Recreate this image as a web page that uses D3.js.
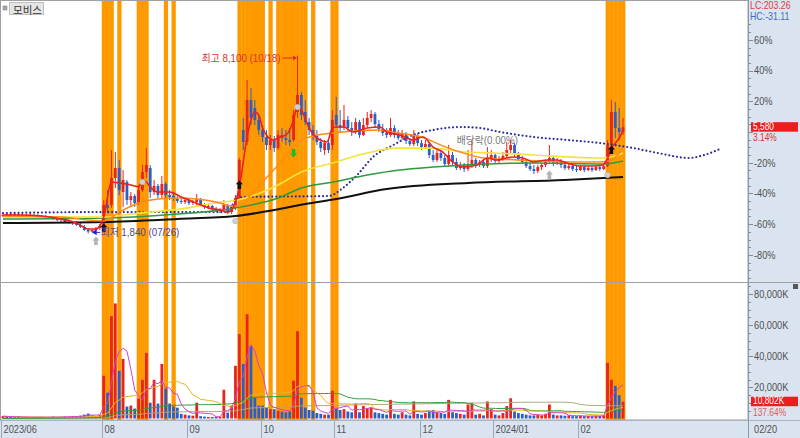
<!DOCTYPE html>
<html><head><meta charset="utf-8">
<script src="https://cdn.jsdelivr.net/npm/d3@7/dist/d3.min.js"></script>
<style>html,body{margin:0;padding:0;background:#fff;overflow:hidden}svg{display:block}</style>
</head><body>
<svg id="chart" width="800" height="438"></svg>
<script>
// ---------------- DATA ----------------
const stockName = "모비스";
const open = [
2450,2485,2520,2485,2520,2450,2485,2450,2485,2450,
2415,2450,2380,2415,2345,2310,2345,2240,2205,2240,
2135,2065,1960,1905,1960,2030,
2100,2840,2840,3790,4140,3295,3650,3015,3155,2910,
3365,4000,4140,3295,3510,3190,3580,3190,3155,3050,
2980,2945,
3015,2910,2945,3050,2840,2770,2805,2700,2625,2665,2840,2590,2735,
3085,5480,5060,6535,6255,5835,5480,5235,4950,5130,
4845,5305,5200,5130,5130,6115,6715,6115,5760,5480,
5270,5060,4775,5020,4950,6010,
5655,5550,5835,5550,5410,5760,5305,5655,5905,6045,
5690,5515,5375,5305,5550,5305,5200,5340,5095,4985,
5270,5020,4880,4985,
4600,4425,4670,4495,4285,4600,4355,4140,4250,4105,
4285,4425,4250,4355,4210,4495,4600,4390,4460,4565,
4775,4950,4635,4460,4355,
4210,4105,4035,4175,4250,4355,4495,4320,4390,4250,
4140,4210,4105,4070,4175,4070,4140,4070,4175,4105,
4210,4950,6115,5550,5410];
const high = [
2555,2555,2555,2590,2555,2555,2520,2555,2520,2520,
2485,2485,2450,2450,2415,2380,2380,2310,2275,2275,
2205,2135,2030,1995,2065,2170,
3015,3365,4775,4705,4425,4070,3720,3295,3225,3545,
4250,4845,4250,3720,3580,3860,3650,3365,3295,3155,
3085,3085,
3085,3015,3225,3085,2910,2875,2840,2770,2735,3015,2875,2840,3190,
4495,5905,7240,6960,6535,6010,5655,5480,5305,5270,
5480,5550,5480,5550,6185,8100,6820,6535,5905,5655,
5480,5200,5130,5130,6185,6645,
6185,6360,5975,5760,5905,5835,5905,6115,6185,6115,
5835,5690,5550,5905,5655,5480,5480,5410,5200,5480,
5340,5130,5130,5060,
4775,4775,4775,4600,4950,4705,4495,4355,4320,4775,
5130,4495,4425,4425,4880,4775,4670,4565,4705,5060,
5130,5020,4705,4565,4460,
4320,4250,4250,4320,4425,4950,4565,4495,4460,4355,
4320,4285,4210,4250,4250,4210,4210,4250,4250,4320,
5130,6535,6465,6255,5905];
const low = [
2415,2450,2450,2450,2450,2415,2415,2415,2415,2380,
2380,2345,2345,2310,2275,2240,2205,2170,2135,2100,
2030,1925,1840,1890,1925,1960,
2030,2590,2735,3435,3190,2770,2840,2805,2770,2840,
3295,3790,3085,3190,3085,3085,3085,3015,2980,2910,
2875,2875,
2840,2840,2805,2805,2700,2700,2625,2590,2555,2590,2520,2520,2665,
3015,4775,4950,5655,5655,5305,5060,4775,4775,4705,
4775,5060,4950,4915,5060,5905,5835,5655,5305,5130,
4950,4705,4600,4670,4775,5550,
5410,5480,5410,5270,5340,5200,5270,5550,5760,5550,
5410,5270,5200,5235,5200,5130,5130,4985,4915,4915,
4915,4775,4810,4495,
4355,4355,4390,4210,4210,4250,4070,4070,4000,4035,
4140,4140,4175,4140,4140,4355,4320,4320,4390,4495,
4670,4530,4390,4285,4140,
4035,3930,3965,4070,4175,4285,4210,4250,4140,4070,
4070,4035,4000,4035,4000,4035,4000,4035,4035,4070,
4175,4845,5200,5130,5305];
const close = [
2485,2520,2485,2520,2485,2485,2450,2485,2450,2415,
2450,2380,2415,2345,2310,2345,2240,2205,2240,2135,
2065,1960,1905,1960,2030,2100,
2840,2735,3790,4140,3365,3720,3015,3155,2910,3365,
4000,4250,3295,3510,3190,3580,3190,3120,3050,2980,
2945,3015,
2910,2945,3050,2840,2770,2805,2700,2625,2665,2840,2590,2735,3085,
4425,5060,6535,5905,5835,5480,5235,4950,5130,4845,
5305,5200,5130,5060,6010,6715,6010,5760,5480,5270,
5060,4845,5020,4775,5835,5655,
5550,5835,5550,5410,5760,5305,5655,5905,6045,5690,
5515,5375,5305,5550,5305,5200,5340,5095,4985,5270,
5020,4880,4985,4600,
4425,4670,4495,4285,4600,4355,4140,4250,4105,4285,
4425,4250,4355,4210,4495,4600,4390,4460,4565,4775,
4950,4635,4460,4355,4210,
4105,4035,4175,4250,4355,4495,4320,4390,4250,4140,
4210,4105,4070,4175,4070,4140,4070,4175,4105,4210,
4950,6115,5550,5410,5580];
// volume in thousands of shares (K)
const volume = [
1500,1200,1000,900,1100,800,900,700,800,1000,
900,700,800,1200,900,1000,1300,1100,1500,1400,
1800,2500,3200,2000,1600,2200,
27500,16600,65800,74000,30700,38300,7700,8300,6400,12800,
24900,42200,10200,24900,9600,35100,19200,9600,7700,7000,
3000,2500,
2000,1800,10200,1500,1200,1000,900,1100,1200,18500,3800,8300,33900,
54300,35100,67100,46600,13400,8300,8300,7000,6000,6000,
5000,4500,4000,4500,24300,56200,13400,7000,5500,5000,
3500,3000,2500,2500,17900,6400,
5500,6000,4500,4000,9600,4000,8000,6500,7000,4000,
3500,3000,2500,12000,3000,2500,4000,2500,2000,11000,
3000,2500,3500,4500,
5500,4000,3500,3000,12000,4000,3500,3000,2500,9000,
10000,2500,3000,2000,11000,6000,2500,2000,3500,8000,
13000,4500,3500,3000,2500,
2000,2000,2500,2000,3000,9000,2500,2000,2000,1800,
2000,1500,1500,1800,1500,1600,1500,1700,1600,2000,
35800,25000,21000,15000,10802];

// highlighted (orange) trading days, by day index
const bandDays = [26,27,28,30,35,36,37,42,44,61,62,63,64,65,66,67,69,71,72,73,74,75,76,77,78,80,85,86,156,157,158,159,160];

// month tick labels (day index of first trading day)
const monthTickIdx = [0,26,48,67,86,108,127,149];
const monthTickLabel = ["2023/06","08","09","10","11","12","2024/01","02"];
const lastDateLabel = "02/20";

// moving-average lines: [dayIndex, price]
const maRed = [[0,2485],[5,2485],[10,2450],[15,2345],[19,2205],[22,1995],[24,1995],[25,2100],[26,2415],[28,3650],[30,3615],[33,3545],[35,3475],[36,3720],[37,3650],[38,3475],[40,3295],[43,3295],[44,3260],[46,3120],[48,3015],[51,2840],[53,2735],[56,2665],[58,2590],[59,2665],[61,3475],[63,5235],[64,5835],[65,6115],[66,6010],[67,5550],[69.7,5130],[71.5,5235],[73,5305],[75,5835],[76,6360],[77,6185],[79.3,5480],[81.8,5130],[83.6,5060],[85.2,5585],[88,5585],[90.3,5410],[94,5550],[97.3,5585],[99,5410],[102.4,5305],[105.8,5130],[108.4,5235],[111,4880],[113.5,4705],[116,4355],[118.7,4175],[122.3,4250],[125,4495],[127.5,4425],[130,4495],[131.6,4530],[134.2,4495],[136.8,4355],[140.4,4425],[143,4425],[145.5,4320],[149,4210],[152,4210],[154.8,4250],[155.8,4425],[157.1,4845],[159.2,5235],[160,5480]];
const maOrange = [[0,2450],[15,2415],[22,2310],[26,2275],[30,2590],[35,2910],[40,3050],[45,3085],[50,3050],[55,2945],[59,2805],[61,2805],[64,3190],[67,3650],[71,4250],[77,5130],[85,5375],[97,5480],[102,5375],[108,5235],[113,4950],[118,4705],[124,4495],[133,4425],[146,4355],[154,4355],[157,4425],[159,4670],[160,4845]];
const maYellow = [[0,2415],[26,2415],[35,2555],[46,2700],[54.5,2910],[60.5,3015],[67,3295],[71,3545],[77,4000],[85,4320],[94,4670],[101.5,4845],[111,4845],[119,4705],[127,4670],[137,4600],[155,4495],[160,4670]];
const maGreen = [[0,2345],[26,2380],[45,2520],[60,2735],[71,3085],[77,3435],[85.2,3650],[94,3895],[102.4,4070],[111,4175],[119,4250],[137,4320],[155,4285],[160,4390]];
const maBlack = [[0,2205],[26,2240],[45,2345],[60,2450],[70,2665],[78,2875],[86,3050],[99,3400],[120,3615],[145,3720],[160,3825]];
const leadSpan = [[0,2555],[26,2590],[40,2590],[58,2590],[60,3015],[62,3120],[84,3155],[87.7,3435],[91.4,3895],[95.5,4530],[100.7,4950],[105.8,5305],[111,5480],[118,5585],[123,5550],[128.3,5410],[136.8,5235],[145.5,5130],[154,5020],[162.6,4845],[169,4670],[177,4495],[181,4600],[185,4810]];

// signal markers [dayIndex, price]
const blackUp = [[26,2030],[61,3545],[157,4775]];
const greenDown = [[75,4670]];
const grayUp = [[24,1570],[141,3895]];
const grayDot = [[36,3650],[60,2275],[76,6290],[156,3895]];

const pctTicks = [60,40,20,-20,-40,-60,-80];
const volTicks = [80000,60000,40000,20000];
const prevClose = 5410, lastClose = 5580, lastVolume = 10802;
const lowInfo = {day:22, price:1840, label:"최저 1,840 (07/26)"};
const highInfo = {day:76, price:8100, label:"최고 8,100 (10/18)"};
const exDiv = {day:125, label:"배당락(0.00%)"};
const lcText = "LC:203.26", hcText = "HC:-31.11", chgText = "3.14%", volRatioText = "137.64%";

// ---------------- LAYOUT ----------------
const W = 800, H = 438, PR = 748, PB = 282, VB = 420, SLOTS = 193;
const N = close.length;
const FONT = "'Liberation Sans','Noto Sans CJK KR',sans-serif";
const RED = "#e8241c", BLUE = "#2a5fc8";
const svg = d3.select("#chart");
const x = d3.scaleLinear().domain([0, SLOTS]).range([1, 749]);
const step = x(1) - x(0);
const cx = i => x(i) + step / 2;
const y = d3.scaleLinear().domain([127, 10059]).range([PB, 0]);
const yv = d3.scaleLinear().domain([0, 87800]).range([418.5, PB]);

// condensed text helper (narrow HTS-style font)
function ntext(g, tx, ty, str, size, fill, sx, anchor) {
  return g.append("text")
    .attr("transform", `translate(${tx},${ty}) scale(${sx},1)`)
    .attr("dominant-baseline", "central").attr("text-anchor", anchor || "start")
    .attr("font-family", FONT).attr("font-size", size).attr("fill", fill).text(str);
}

const defs = svg.append("defs");
defs.append("clipPath").attr("id","cp").append("rect").attr("x",0).attr("y",0).attr("width",PR).attr("height",PB);
defs.append("clipPath").attr("id","cv").append("rect").attr("x",0).attr("y",PB).attr("width",PR).attr("height",VB-PB);

svg.append("rect").attr("width",W).attr("height",H).attr("fill","#fff");
svg.append("rect").attr("x",PR).attr("y",0).attr("width",W-PR).attr("height",H).attr("fill","#dae4f0");
svg.append("rect").attr("x",0).attr("y",VB).attr("width",W).attr("height",H-VB).attr("fill","#dae4f0");

// bands
svg.append("g").selectAll("rect").data(bandDays).join("rect")
  .attr("x", d => x(d)).attr("width", step + 0.4).attr("y", 1).attr("height", VB - 1)
  .attr("fill", "#ff9900");

// ---------- price panel ----------
const gp = svg.append("g").attr("clip-path","url(#cp)");
const idx = d3.range(N);
const up = i => close[i] >= open[i];
gp.selectAll("line.w").data(idx).join("line")
  .attr("x1", cx).attr("x2", cx)
  .attr("y1", i => y(high[i])).attr("y2", i => y(low[i]))
  .attr("stroke", i => up(i) ? RED : BLUE).attr("stroke-width", 1);
gp.selectAll("rect.b").data(idx).join("rect")
  .attr("x", i => cx(i) - 1.4).attr("width", 2.8)
  .attr("y", i => y(Math.max(open[i], close[i])))
  .attr("height", i => Math.max(1, Math.abs(y(open[i]) - y(close[i]))))
  .attr("fill", i => up(i) ? RED : BLUE);

const lineGen = d3.line().x(d => cx(d[0])).y(d => y(d[1])).curve(d3.curveMonotoneX);
gp.append("path").attr("d", lineGen(leadSpan)).attr("fill","none").attr("stroke","#2b2ba0")
  .attr("stroke-width",2.2).attr("stroke-linecap","round").attr("stroke-dasharray","0,3.9");
gp.append("path").attr("d", lineGen(maBlack)).attr("fill","none").attr("stroke","#111").attr("stroke-width",2);
gp.append("path").attr("d", lineGen(maGreen)).attr("fill","none").attr("stroke","#2e9a3a").attr("stroke-width",1.6);
gp.append("path").attr("d", lineGen(maYellow)).attr("fill","none").attr("stroke","#f4e43a").attr("stroke-width",1.7);
gp.append("path").attr("d", lineGen(maOrange)).attr("fill","none").attr("stroke","#ff8a1a").attr("stroke-width",1.4);
gp.append("path").attr("d", lineGen(maRed)).attr("fill","none").attr("stroke","#ee2020").attr("stroke-width",1.6);

// markers
const arrowUp = "M0,-4.5L3.6,-0.6L1.8,-0.6L1.8,4L-1.8,4L-1.8,-0.6L-3.6,-0.6Z";
gp.selectAll("path.bu").data(blackUp).join("path").attr("d", arrowUp)
  .attr("transform", d => `translate(${cx(d[0])},${y(d[1])})`).attr("fill","#111");
gp.selectAll("path.gu").data(grayUp).join("path").attr("d", arrowUp)
  .attr("transform", d => `translate(${cx(d[0])},${y(d[1])})`).attr("fill","#b4b4b4");
gp.selectAll("path.gd").data(greenDown).join("path").attr("d", arrowUp)
  .attr("transform", d => `translate(${cx(d[0])},${y(d[1])}) rotate(180)`).attr("fill","#22bb22");
gp.selectAll("circle.gc").data(grayDot).join("circle")
  .attr("cx", d => cx(d[0])).attr("cy", d => y(d[1])).attr("r", 2.8).attr("fill","#d0d0d0").attr("stroke","#b0b0b0").attr("stroke-width",0.6);

// high annotation
const ga0 = svg.append("g");
const hx = cx(highInfo.day), hy = y(highInfo.price) + 2.4;
ntext(ga0, hx - 17, hy, highInfo.label, 10.5, "#e0302a", 0.93, "end");
ga0.append("line").attr("x1", hx - 15).attr("x2", hx - 3).attr("y1", hy).attr("y2", hy).attr("stroke","#e0302a").attr("stroke-width",1);
ga0.append("path").attr("d", `M${hx-0.5},${hy}L${hx-4.5},${hy-2.5}L${hx-4.5},${hy+2.5}Z`).attr("fill","#e0302a");

// low annotation
const lx = cx(lowInfo.day), ly = y(lowInfo.price) - 1;
ga0.append("path").attr("d", `M${lx+3.5},${ly}L${lx+8.5},${ly-3}L${lx+8.5},${ly+3}Z`).attr("fill","#2222cc");
ga0.append("line").attr("x1", lx + 8).attr("x2", lx + 12).attr("y1", ly).attr("y2", ly).attr("stroke","#2222cc");
ntext(ga0, lx + 12.5, ly, lowInfo.label, 10.5, "#4646a0", 0.93);

// ex-dividend
ntext(ga0, cx(exDiv.day), y(high[exDiv.day]) - 7, exDiv.label, 10.5, "#7a7a7a", 0.93, "middle");

// ---------- volume panel ----------
const gv = svg.append("g").attr("clip-path","url(#cv)");
gv.selectAll("rect.v").data(idx).join("rect")
  .attr("x", i => cx(i) - 1.4).attr("width", 2.8)
  .attr("y", i => yv(volume[i])).attr("height", i => yv(0) - yv(volume[i]))
  .attr("fill", i => up(i) ? RED : BLUE);
function volAvg(n, partial) {
  return volume.map((v, i) => {
    const s = volume.slice(Math.max(0, i - n + 1), i + 1);
    return partial ? d3.mean(s) : d3.sum(s) / n;
  });
}
const vline = d3.line().x((d, i) => cx(i)).y(d => yv(d));
[[120,false,"#a9a97a"],[60,false,"#3a9a3a"],[20,true,"#e6b422"],[5,true,"#d63fd0"]].forEach(([n,p,c]) => {
  gv.append("path").attr("d", vline(volAvg(n,p))).attr("fill","none").attr("stroke",c).attr("stroke-width",1);
});

// ---------- frame & separators ----------
svg.append("rect").attr("x",0.5).attr("y",0.5).attr("width",PR-0.5).attr("height",VB-0.5).attr("fill","none").attr("stroke","#a0a0a0");
svg.append("line").attr("x1",0).attr("x2",W).attr("y1",PB+0.5).attr("y2",PB+0.5).attr("stroke","#a0a0a0");
svg.append("line").attr("x1",0).attr("x2",W).attr("y1",VB+0.5).attr("y2",VB+0.5).attr("stroke","#a8b4c4");
svg.append("line").attr("x1",PR+0.5).attr("x2",PR+0.5).attr("y1",0).attr("y2",H).attr("stroke","#8a9ab0");

// ---------- right price axis ----------
const ga = svg.append("g");
const SX = 0.84;
const pctPrice = p => prevClose * (1 + p / 100);
d3.range(-95, 86, 5).forEach(p => {
  const yy = Math.round(y(pctPrice(p))) + 0.5;
  if (yy < 24 || yy > PB - 2) return;
  const major = p % 20 === 0;
  ga.append("line").attr("x1", PR).attr("x2", PR + (major ? 5 : 3)).attr("y1", yy).attr("y2", yy).attr("stroke","#7d8da5");
});
pctTicks.forEach(d => ntext(ga, PR + 6, y(pctPrice(d)), d + "%", 11, "#505050", SX));
ntext(ga, PR + 2, 5.5, lcText, 10.5, "#e03c3c", SX);
ntext(ga, PR + 2, 16, hcText, 10.5, "#3a6fc0", SX);
const yl = y(lastClose);
ga.append("rect").attr("x", PR + 3).attr("y", yl - 5).attr("width", 47).attr("height", 9.5).attr("fill","#ee1c1c");
ntext(ga, PR + 5, yl - 0.6, d3.format(",")(lastClose), 10, "#fff", SX);
ntext(ga, PR + 5, yl + 11, chgText, 10, "#e03030", SX);

// ---------- right volume axis ----------
d3.range(5000, 87000, 5000).forEach(v => {
  const yy = Math.round(yv(v)) + 0.5;
  const major = v % 20000 === 0;
  ga.append("line").attr("x1", PR).attr("x2", PR + (major ? 5 : 3)).attr("y1", yy).attr("y2", yy).attr("stroke","#7d8da5");
});
volTicks.forEach(d => ntext(ga, PR + 6, yv(d), d3.format(",")(d) + "K", 11, "#505050", SX));
const yvl = yv(lastVolume);
ga.append("rect").attr("x", PR + 3).attr("y", yvl - 5).attr("width", 47).attr("height", 9.5).attr("fill","#ee1c1c");
ntext(ga, PR + 5, yvl - 0.6, d3.format(",")(lastVolume) + "K", 10, "#fff", SX);
ntext(ga, PR + 5, yvl + 11, volRatioText, 10, "#e05a5a", SX);
ga.append("rect").attr("x", 793).attr("y", 284).attr("width", 5).attr("height", 5).attr("fill","#555");

// ---------- bottom date axis ----------
const gx = svg.append("g");
monthTickIdx.forEach((d, k) => {
  const xx = Math.round(x(d)) + 0.5;
  gx.append("line").attr("x1", xx).attr("x2", xx).attr("y1", VB).attr("y2", H).attr("stroke","#9aa8bb");
  ntext(gx, xx + 2, 429.5, monthTickLabel[k], 11, "#505050", SX);
});
ntext(gx, PR + 6, 429.5, lastDateLabel, 11, "#505050", SX);

// ---------- title ----------
svg.append("rect").attr("x",3).attr("y",6).attr("width",4).attr("height",4).attr("fill","#a8a8a8").attr("stroke","#777").attr("stroke-width",0.5);
svg.append("rect").attr("x",9.5).attr("y",2.5).attr("width",34).attr("height",12).attr("fill","#e6e6e6").attr("stroke","#c0c0c0");
svg.append("text").attr("x",13).attr("y",9).attr("dominant-baseline","central").attr("font-family","'Noto Sans CJK KR',sans-serif")
  .attr("font-size",10.5).attr("fill","#333").text(stockName);
</script>
</body></html>
